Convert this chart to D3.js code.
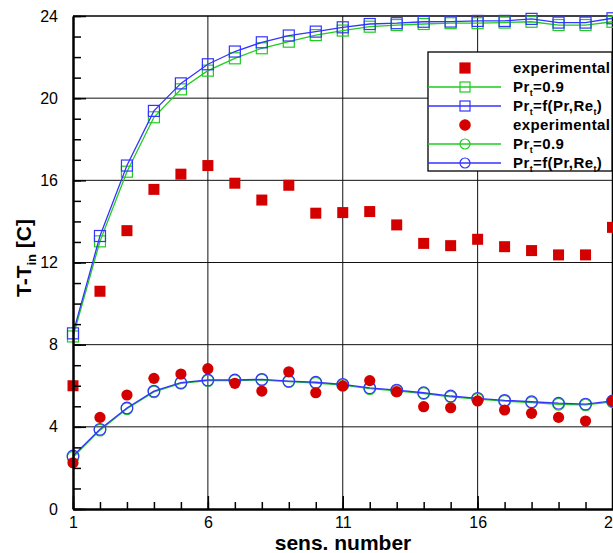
<!DOCTYPE html>
<html>
<head>
<meta charset="utf-8">
<script src="https://cdn.jsdelivr.net/npm/d3@7"></script>
<style>
  body { margin: 0; background: #fff; }
  svg { display: block; font-family: "Liberation Sans", Arial, sans-serif; }
</style>
</head>
<body>
<svg id="chart"></svg>
<script>
// sensor numbers 1..21
const sensors = [1,2,3,4,5,6,7,8,9,10,11,12,13,14,15,16,17,18,19,20,21];

// upper case (squares)
const expSquare = [6.0,10.6,13.55,15.56,16.3,16.72,15.86,15.04,15.76,14.4,14.43,14.48,13.83,12.93,12.82,13.13,12.77,12.58,12.37,12.37,13.71];
const pr09Square = [8.4,13.03,16.42,19.07,20.43,21.34,21.94,22.43,22.75,23.07,23.29,23.48,23.56,23.61,23.65,23.65,23.68,23.72,23.56,23.56,23.72];
const prfSquare = [8.55,13.29,16.72,19.38,20.72,21.65,22.27,22.72,23.05,23.24,23.45,23.61,23.65,23.72,23.73,23.76,23.76,23.86,23.68,23.68,23.89];

// lower case (circles)
const expCircle = [2.25,4.46,5.55,6.36,6.57,6.83,6.12,5.74,6.68,5.66,5.99,6.25,5.71,4.98,4.93,5.26,4.82,4.66,4.46,4.28,5.26];
const pr09Circle = [2.52,3.84,4.88,5.70,6.12,6.25,6.25,6.28,6.20,6.13,6.03,5.86,5.75,5.62,5.46,5.35,5.25,5.18,5.10,5.07,5.22];
const prfCircle = [2.58,3.88,4.92,5.74,6.15,6.28,6.28,6.31,6.23,6.17,6.07,5.90,5.79,5.66,5.50,5.39,5.29,5.22,5.15,5.11,5.26];

const yMajor = [0,4,8,12,16,20,24];
const xMajor = [1,6,11,16,21];

const WIDTH = 613, HEIGHT = 553;
const GREEN = "#1fcc1f", BLUE = "#3434ff", RED = "#d40000";

const svg = d3.select("#chart").attr("width", WIDTH).attr("height", HEIGHT);

const x = d3.scaleLinear().domain([1, 21]).range([73, 612.5]);
const y = d3.scaleLinear().domain([0, 24]).range([509, 16]);

// grid
svg.append("g").selectAll("line").data(xMajor.slice(1, -1)).enter().append("line")
  .attr("x1", d => x(d)).attr("x2", d => x(d)).attr("y1", y(0)).attr("y2", y(24))
  .attr("stroke", "#111").attr("stroke-width", 1);
svg.append("g").selectAll("line").data(yMajor.slice(1, -1)).enter().append("line")
  .attr("x1", x(1)).attr("x2", x(21)).attr("y1", d => y(d)).attr("y2", d => y(d))
  .attr("stroke", "#111").attr("stroke-width", 1);

// frame top/right
svg.append("line").attr("x1", x(1)).attr("x2", x(21)).attr("y1", y(24)).attr("y2", y(24))
  .attr("stroke", "#000").attr("stroke-width", 1.5);
svg.append("line").attr("x1", x(21)).attr("x2", x(21)).attr("y1", y(0)).attr("y2", y(24))
  .attr("stroke", "#000").attr("stroke-width", 1.5);

const line = d3.line().x((d, i) => x(sensors[i])).y(d => y(d));

function drawModel(vals, color, shape) {
  const g = svg.append("g");
  g.append("path").datum(vals).attr("d", line)
    .attr("fill", "none").attr("stroke", color).attr("stroke-width", 1.3);
  if (shape === "square") {
    g.selectAll("rect").data(vals).enter().append("rect")
      .attr("x", (d, i) => x(sensors[i]) - 5.5).attr("y", d => y(d) - 5.5)
      .attr("width", 11).attr("height", 11)
      .attr("fill", "none").attr("stroke", color).attr("stroke-width", 1.2);
  } else {
    g.selectAll("circle").data(vals).enter().append("circle")
      .attr("cx", (d, i) => x(sensors[i])).attr("cy", d => y(d)).attr("r", 5.8)
      .attr("fill", "none").attr("stroke", color).attr("stroke-width", 1.2);
  }
}

drawModel(pr09Square, GREEN, "square");
drawModel(prfSquare, BLUE, "square");
drawModel(pr09Circle, GREEN, "circle");
drawModel(prfCircle, BLUE, "circle");

// experimental points
svg.append("g").selectAll("rect").data(expSquare).enter().append("rect")
  .attr("x", (d, i) => x(sensors[i]) - 5.5).attr("y", d => y(d) - 5.5)
  .attr("width", 11).attr("height", 11).attr("fill", RED);
svg.append("g").selectAll("circle").data(expCircle).enter().append("circle")
  .attr("cx", (d, i) => x(sensors[i])).attr("cy", d => y(d)).attr("r", 5.6).attr("fill", RED);

// axes
const xAxis = svg.append("g").attr("transform", `translate(0,${y(0)})`)
  .call(d3.axisBottom(x).tickValues(xMajor).tickFormat(d3.format("d"))
    .tickSizeInner(-13).tickSizeOuter(0).tickPadding(8));
svg.append("g").attr("transform", `translate(0,${y(0)})`)
  .call(d3.axisBottom(x).tickValues(sensors).tickFormat("").tickSizeInner(-7).tickSizeOuter(0))
  .select(".domain").remove();
const yAxis = svg.append("g").attr("transform", `translate(${x(1)},0)`)
  .call(d3.axisLeft(y).tickValues(yMajor).tickFormat(d3.format("d"))
    .tickSizeInner(-13).tickSizeOuter(0).tickPadding(15));
svg.append("g").attr("transform", `translate(${x(1)},0)`)
  .call(d3.axisLeft(y).ticks(24).tickFormat("").tickSizeInner(-8).tickSizeOuter(0))
  .select(".domain").remove();

svg.selectAll(".tick line").attr("stroke", "#000").attr("stroke-width", 1.5);
xAxis.select(".domain").attr("stroke-width", 2.5);
yAxis.select(".domain").attr("stroke-width", 2.5);
svg.selectAll(".tick text").attr("font-size", 16).attr("fill", "#000")
  .attr("font-family", "Liberation Sans, Arial, sans-serif");

// axis titles
svg.append("text").attr("x", 343).attr("y", 550).attr("text-anchor", "middle")
  .attr("font-size", 21).attr("font-weight", "bold").text("sens. number");

const yt = svg.append("text").attr("transform", "translate(31,258) rotate(-90)")
  .attr("text-anchor", "middle").attr("font-size", 21).attr("font-weight", "bold");
yt.append("tspan").text("T-T");
yt.append("tspan").attr("font-size", 13).attr("dy", 5).text("in");
yt.append("tspan").attr("dy", -5).text(" [C]");

// legend
const legendItems = [
  {label: "experimental", sub: null, color: RED, shape: "square", filled: true},
  {label: "Pr", sub: "=0.9", color: GREEN, shape: "square", filled: false},
  {label: "Pr", sub: "=f(Pr,Re", color: BLUE, shape: "square", filled: false, tail: true},
  {label: "experimental", sub: null, color: RED, shape: "circle", filled: true},
  {label: "Pr", sub: "=0.9", color: GREEN, shape: "circle", filled: false},
  {label: "Pr", sub: "=f(Pr,Re", color: BLUE, shape: "circle", filled: false, tail: true}
];

const lg = svg.append("g");
lg.append("rect").attr("x", 428).attr("y", 52).attr("width", 184).attr("height", 119)
  .attr("fill", "#fff").attr("stroke", "#000").attr("stroke-width", 1.3);

legendItems.forEach((it, i) => {
  const cy = 68 + i * 19;
  const g = lg.append("g");
  if (!it.filled) {
    g.append("line").attr("x1", 428).attr("x2", 501).attr("y1", cy).attr("y2", cy)
      .attr("stroke", it.color).attr("stroke-width", 1.3);
  }
  if (it.shape === "square") {
    g.append("rect").attr("x", 460).attr("y", cy - 5).attr("width", 10).attr("height", 10)
      .attr("fill", it.filled ? it.color : "none").attr("stroke", it.color).attr("stroke-width", 1.2);
  } else {
    g.append("circle").attr("cx", 465).attr("cy", cy).attr("r", it.filled ? 5.2 : 5)
      .attr("fill", it.filled ? it.color : "none").attr("stroke", it.color).attr("stroke-width", 1.2);
  }
  const t = g.append("text").attr("x", 513).attr("y", cy + 5)
    .attr("font-size", 15).attr("font-weight", "bold").attr("letter-spacing", 0.4);
  if (it.sub === null) {
    t.text(it.label);
  } else {
    t.append("tspan").text(it.label);
    t.append("tspan").attr("font-size", 9).attr("dy", 4).text("t");
    t.append("tspan").attr("dy", -4).text(it.sub);
    if (it.tail) {
      t.append("tspan").attr("font-size", 9).attr("dy", 4).text("t");
      t.append("tspan").attr("dy", -4).text(")");
    }
  }
});
</script>
</body>
</html>
